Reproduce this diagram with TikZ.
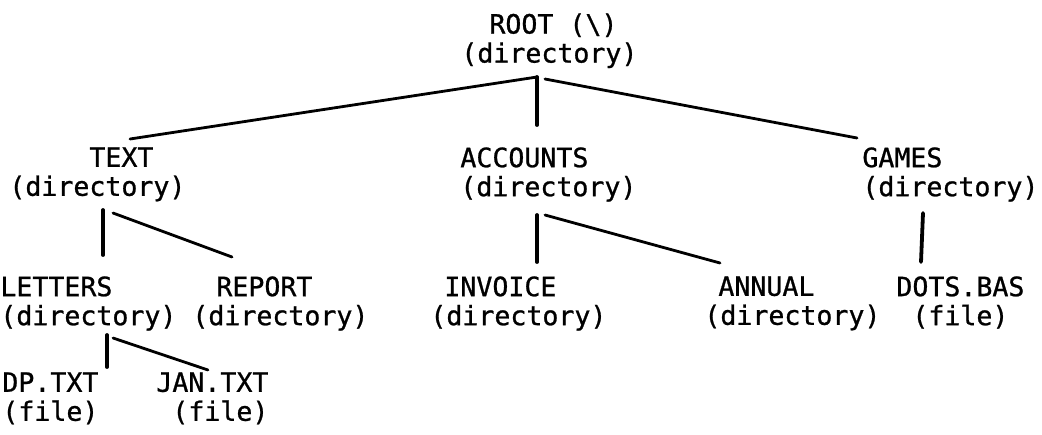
\documentclass[tikz,border=0pt]{standalone}
\usepackage{fontspec}
\newfontfamily\dirfont[UprightFeatures={FakeBold=0.9}]{DejaVu Sans Mono}
\usepackage{tikz}
\usetikzlibrary{calc}
\tikzset{>=latex}
\tikzset{
  entry/.style={anchor=north west,inner sep=0pt,align=left,
    font=\dirfont\fontsize{13.29pt}{14.5pt}\selectfont},
  stem/.style={line width=1.9pt,line cap=round},
  branch/.style={line width=1.4pt,line cap=round}
}

\begin{document}
\begin{tikzpicture}[x=0.5pt,y=-0.5pt]
       \useasboundingbox (0,0) rectangle (1042,434);
       \node[entry] (root) at (461,13) {\hspace*{14pt}ROOT (\textbackslash)\\(directory)};
       \node[entry] (text) at (9,147) {\hspace*{40pt}TEXT\\(directory)};
       \node[entry] (accounts) at (460,147) {ACCOUNTS\\(directory)};
       \node[entry] (games) at (862,147) {GAMES\\(directory)};
       \node[entry] (letters) at (0,276) {LETTERS\\(directory)};
       \node[entry] (report) at (192,276) {\hspace*{12pt}REPORT\\(directory)};
       \node[entry] (invoice) at (430,276) {\hspace*{7pt}INVOICE\\(directory)};
       \node[entry] (annual) at (704,276) {\hspace*{7pt}ANNUAL\\(directory)};
       \node[entry] (dotsbas) at (896,276) {DOTS.BAS\\\hspace*{8pt}(file)};
       \node[entry] (dptxt) at (2,372) {DP.TXT\\(file)};
       \node[entry] (jantxt) at (156,372) {JAN.TXT\\\hspace*{8pt}(file)};
       \draw[branch] ($(root.north west)+(76,64)$) -- ($(text.north west)+(121,-8)$);
       \draw[stem] ($(root.north west)+(76,64)$) -- ($(accounts.north west)+(77,-22)$);
       \draw[branch] ($(root.north west)+(84,66)$) -- ($(games.north west)+(-5,-9)$);
       \draw[stem] ($(text.north west)+(94,63)$) -- ($(letters.north west)+(103,-21)$);
       \draw[branch] ($(text.north west)+(104,66)$) -- ($(report.north west)+(40,-19)$);
       \draw[stem] ($(accounts.north west)+(77,68)$) -- ($(invoice.north west)+(107,-14)$);
       \draw[branch] ($(accounts.north west)+(85,68)$) -- ($(annual.north west)+(16,-13)$);
       \draw[stem] ($(games.north west)+(61,66)$) -- ($(dotsbas.north west)+(25,-14)$);
       \draw[stem] ($(letters.north west)+(107,59)$) -- ($(dptxt.north west)+(105,-5)$);
       \draw[branch] ($(letters.north west)+(113,62)$) -- ($(jantxt.north west)+(52,-2)$);
      \end{tikzpicture}
\end{document}
